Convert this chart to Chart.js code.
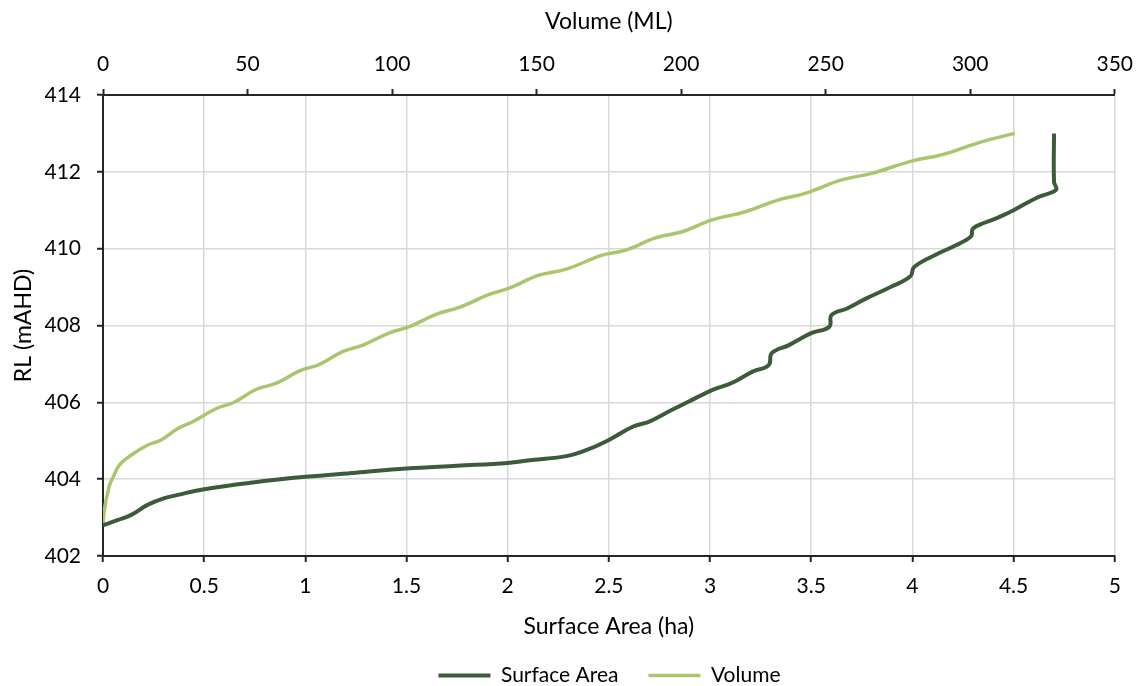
<!DOCTYPE html>
<html>
<head>
<meta charset="utf-8">
<title>RL vs Surface Area and Volume</title>
<script src="https://cdn.jsdelivr.net/npm/chart.js@4.4.1/dist/chart.umd.min.js"></script>
<style>
  html, body { margin: 0; padding: 0; background: #fff; }
  .wrap { width: 1145px; height: 686px; position: relative; }
</style>
</head>
<body>
<div class="wrap"><canvas id="chart"></canvas></div>
<script>
// Surface area curve: area (ha) vs RL (mAHD)
const areaHa = [0, 0.074, 0.14, 0.22, 0.30, 0.37, 0.5, 0.75, 1.0, 1.25, 1.5, 1.75, 2.0, 2.12, 2.29, 2.4,
  2.5, 2.62, 2.7, 2.81, 2.895, 3.01, 3.11, 3.21, 3.29, 3.305, 3.39, 3.5, 3.59, 3.6, 3.68, 3.77,
  3.9, 3.99, 4.01, 4.13, 4.2, 4.29, 4.3, 4.42, 4.5, 4.62, 4.71, 4.7, 4.7];
const areaRL = [402.8, 402.94, 403.07, 403.33, 403.5, 403.59, 403.74, 403.92, 404.06, 404.17, 404.28, 404.35, 404.42, 404.5, 404.6, 404.78,
  405.02, 405.37, 405.5, 405.8, 406.02, 406.32, 406.51, 406.8, 406.97, 407.28, 407.49, 407.8, 407.97, 408.27, 408.45, 408.7,
  409.02, 409.28, 409.53, 409.88, 410.05, 410.32, 410.53, 410.8, 411.0, 411.34, 411.53, 411.74, 413.0];

// Volume curve: volume (ML) vs RL (mAHD)
const volumeML = [0, 0.3, 0.8, 1.5, 2.3, 3.5, 5.7, 9.8, 15.5, 20.1, 25.9, 31.2, 39.2, 45.0, 53.1, 60.0,
  68.0, 74.9, 82.9, 89.9, 99.1, 106, 115.2, 123.2, 133.6, 140.5, 150.8, 160.0, 172.7, 180.8, 191.1,
  200.3, 210.7, 222.2, 233.7, 242.9, 255.5, 266, 279.7, 290, 303.9, 315.4];
const volumeRL = [402.8, 403.1, 403.35, 403.6, 403.85, 404.05, 404.37, 404.63, 404.89, 405.02, 405.32, 405.5, 405.84, 405.99, 406.34, 406.5,
  406.82, 406.99, 407.32, 407.49, 407.81, 407.97, 408.29, 408.47, 408.81, 408.97, 409.31, 409.46, 409.83, 409.96, 410.28,
  410.44, 410.75, 410.96, 411.27, 411.44, 411.79, 411.96, 412.28, 412.44, 412.78, 413.0];

// axis ranges [min, max, step]
const rlAxis = [402, 414, 2];
const areaAxis = [0, 5, 0.5];
const volumeAxis = [0, 350, 50];

const seriesNames = ['Surface Area', 'Volume'];

const toPoints = (xs, ys) => xs.map((x, i) => ({ x: x, y: ys[i] }));

const FONT = { family: 'Lato', size: 21 };
const TITLE_FONT = { family: 'Lato', size: 23 };
const TEXT = '#000';
const AXIS = '#262626';
const GRID = '#d9d9d9';
const plainNumber = v => String(v);

// legend row sits under the plot area, a little lower than the default
const nudgeLegend = {
    id: 'nudgeLegend',
    afterLayout(chart) {
        const lg = chart.legend;
        if (!lg) return;
        lg.top += 10;
        lg.left += 51;
        lg.right += 51;
    }
};

new Chart(document.getElementById('chart'), {
    type: 'line',
    data: {
        datasets: [{
            label: seriesNames[0],
            data: toPoints(areaHa, areaRL),
            xAxisID: 'x',
            borderColor: '#3d5a3a',
            backgroundColor: '#3d5a3a',
            borderWidth: 4,
            pointRadius: 0,
            tension: 0.4
        }, {
            label: seriesNames[1],
            data: toPoints(volumeML, volumeRL),
            xAxisID: 'x2',
            borderColor: '#a9c66e',
            backgroundColor: '#a9c66e',
            borderWidth: 3.5,
            pointRadius: 0,
            tension: 0.4
        }]
    },
    options: {
        responsive: true,
        maintainAspectRatio: false,
        animation: false,
        layout: { padding: { left: 0, right: 28, top: 0, bottom: 0 } },
        plugins: {
            legend: {
                position: 'bottom',
                labels: {
                    usePointStyle: true,
                    pointStyle: 'line',
                    pointStyleWidth: 52,
                    padding: 30,
                    color: TEXT,
                    font: FONT
                }
            },
            tooltip: { enabled: false }
        },
        scales: {
            x: {
                type: 'linear',
                position: 'bottom',
                min: areaAxis[0], max: areaAxis[1],
                ticks: { stepSize: areaAxis[2], color: TEXT, font: FONT, padding: 12, callback: plainNumber },
                grid: { color: GRID, lineWidth: 1.5, tickColor: AXIS, tickLength: 6, tickWidth: 2 },
                border: { color: AXIS, width: 2 },
                title: { display: true, text: 'Surface Area (ha)', color: TEXT, font: TITLE_FONT, padding: { top: 4, bottom: -15 } },
                afterFit(s) { s.height = 69; }
            },
            x2: {
                type: 'linear',
                position: 'top',
                min: volumeAxis[0], max: volumeAxis[1],
                ticks: { stepSize: volumeAxis[2], color: TEXT, font: FONT, padding: 12, callback: plainNumber },
                grid: { drawOnChartArea: false, tickColor: AXIS, tickLength: 6, tickWidth: 2 },
                border: { color: AXIS, width: 2 },
                title: { display: true, text: 'Volume (ML)', color: TEXT, font: TITLE_FONT, padding: { top: 8, bottom: 4 } },
                afterFit(s) { s.height = 95; }
            },
            y: {
                type: 'linear',
                min: rlAxis[0], max: rlAxis[1],
                ticks: { stepSize: rlAxis[2], color: TEXT, font: FONT, padding: 16, callback: plainNumber },
                grid: { color: GRID, lineWidth: 1.5, tickColor: AXIS, tickLength: 6, tickWidth: 2 },
                border: { color: AXIS, width: 2 },
                title: { display: true, text: 'RL (mAHD)', color: TEXT, font: TITLE_FONT, padding: { top: 10, bottom: 4 } },
                afterFit(s) { s.width = 103; }
            }
        }
    },
    plugins: [nudgeLegend]
});
</script>
</body>
</html>
